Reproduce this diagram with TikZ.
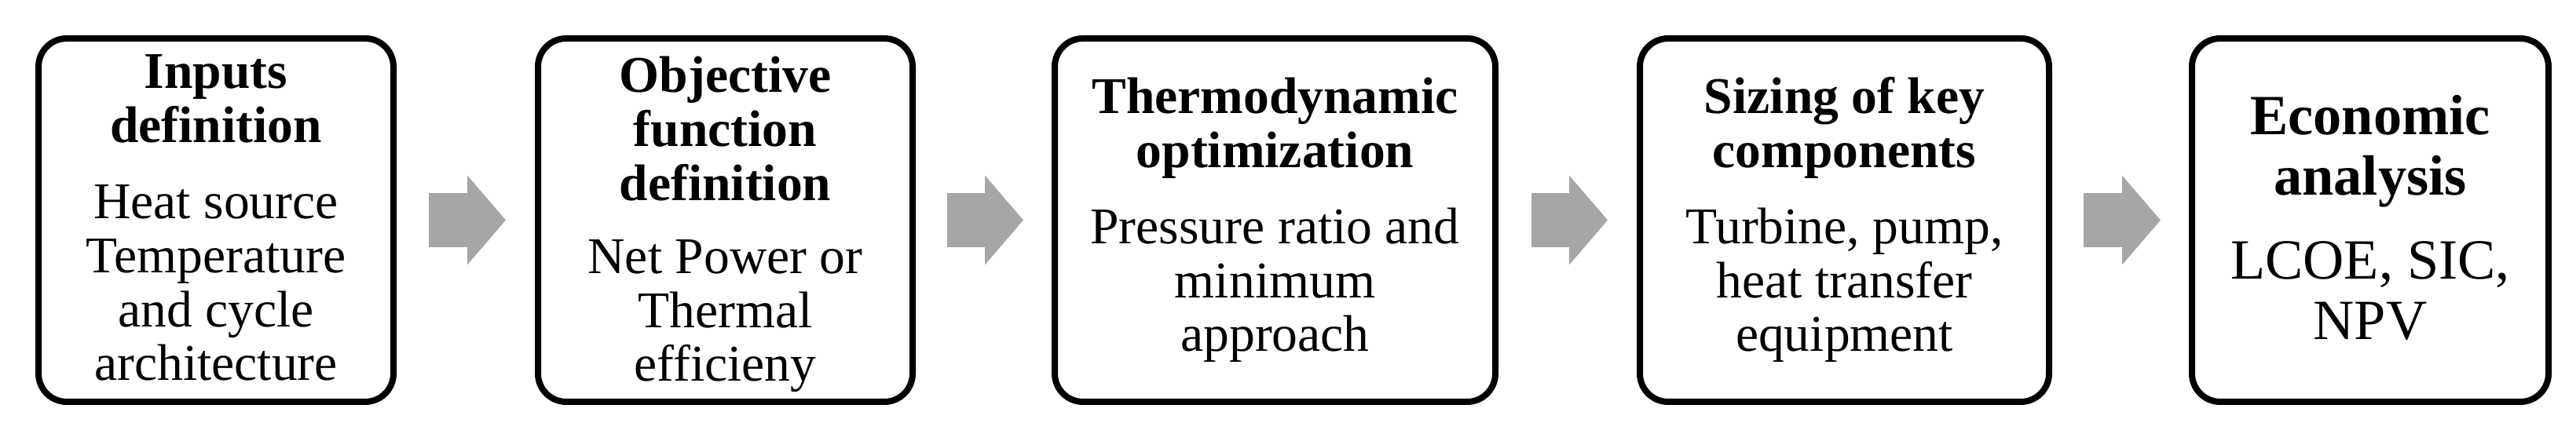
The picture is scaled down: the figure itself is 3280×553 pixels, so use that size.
\documentclass[tikz,border=0pt]{standalone}
\usepackage{fontspec}
\setmainfont{Liberation Serif}
\usetikzlibrary{arrows.meta,calc}
\definecolor{arrowgray}{HTML}{A6A6A6}
\tikzset{
  stepbox/.style={draw=black, line width=2pt, rounded corners=9pt, fill=white,
    minimum height={463*0.25pt}, inner sep=0pt},
  txt/.style={anchor=base, align=center, inner sep=0pt,
    font={\fontsize{16.4pt}{17.2pt}\selectfont}},
  bigtxt/.style={txt, font={\fontsize{18.1pt}{19.3pt}\selectfont}},
  flowarrow/.style={draw=arrowgray, line width={69*0.25pt},
    -{Triangle[length={49*0.25pt}, width={114*0.25pt}, line width=0pt, fill=arrowgray]}}
}
\begin{document}
\begin{tikzpicture}[x=0.25pt, y=-0.25pt]
\useasboundingbox (0,0) rectangle (3280,553);
% boxes
\node[stepbox, minimum width={452*0.25pt}] (b1) at (275,280.5) {};
\node[stepbox, minimum width={477*0.25pt}] (b2) at (923.5,280.5) {};
\node[stepbox, minimum width={561*0.25pt}] (b3) at (1623.5,280.5) {};
\node[stepbox, minimum width={521*0.25pt}] (b4) at (2348.5,280.5) {};
\node[stepbox, minimum width={454*0.25pt}] (b5) at (3018,280.5) {};
% texts (anchored at the baseline of the last line)
\node[txt] (t1) at (275,485) {\textbf{Inputs}\\\textbf{definition}\\[7pt]Heat source\\Temperature\\and cycle\\architecture};
\node[txt] (t2) at (923.5,486) {\textbf{Objective}\\\textbf{function}\\\textbf{definition}\\[6pt]Net Power or\\Thermal\\efficieny};
\node[txt] (t3) at (1623.5,448) {\textbf{Thermodynamic}\\\textbf{optimization}\\[7pt]Pressure ratio and\\minimum\\approach};
\node[txt] (t4) at (2348.5,448) {\textbf{Sizing of key}\\\textbf{components}\\[7pt]Turbine, pump,\\heat transfer\\equipment};
\node[bigtxt] (t5) at (3018,433) {\textbf{Economic}\\\textbf{analysis}\\[7.5pt]LCOE, SIC,\\NPV};
% arrows
\draw[flowarrow] ($(b1.east)+(41,0)$) -- ($(b2.west)+(-37,0)$);
\draw[flowarrow] ($(b2.east)+(40,0)$) -- ($(b3.west)+(-36,0)$);
\draw[flowarrow] ($(b3.east)+(42,0)$) -- ($(b4.west)+(-37,0)$);
\draw[flowarrow] ($(b4.east)+(40,0)$) -- ($(b5.west)+(-36,0)$);
\end{tikzpicture}
\end{document}
